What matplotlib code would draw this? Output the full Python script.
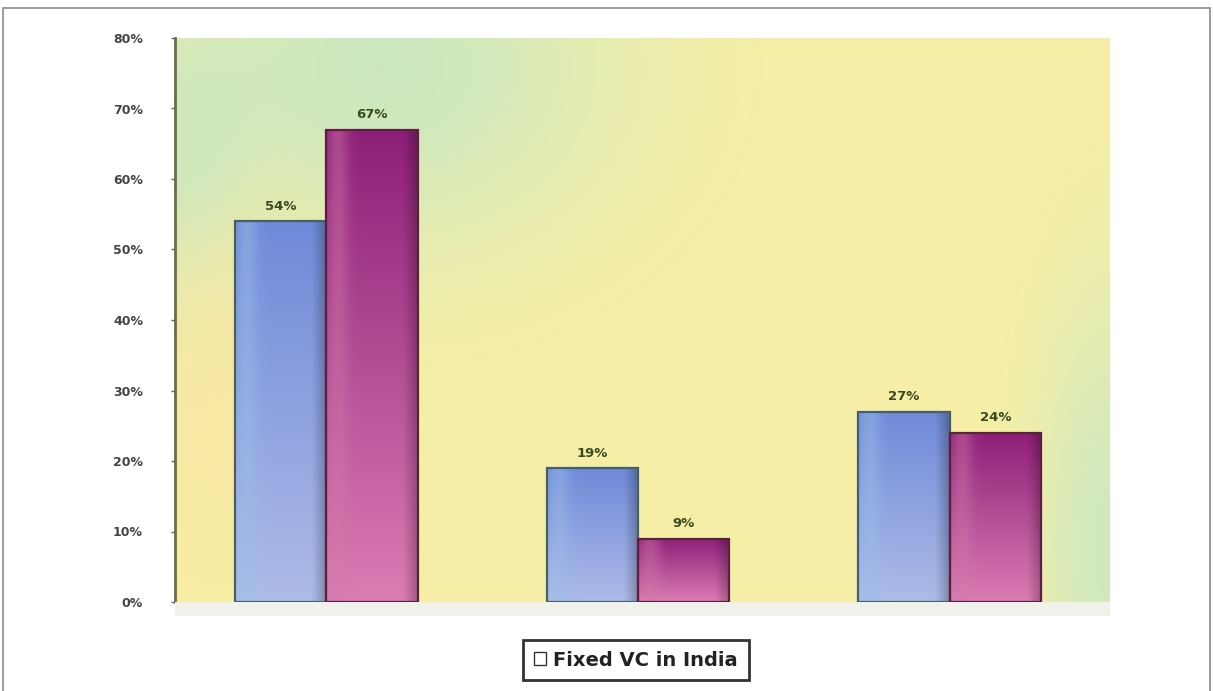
import numpy as np
import matplotlib
matplotlib.use("Agg")
import matplotlib.pyplot as plt
from matplotlib.patches import Rectangle
from matplotlib.colors import to_rgb

# Data
categories = ["A", "B", "C"]
series_names = ["Fixed VC in India", "Other"]
series_a = [54, 19, 27]
series_b = [67, 9, 24]
y_ticks = [0, 10, 20, 30, 40, 50, 60, 70, 80]
y_tick_labels = ["0%", "10%", "20%", "30%", "40%", "50%", "60%", "70%", "80%"]

W, H = 1213, 691
fig = plt.figure(figsize=(W / 100, H / 100), dpi=100)
fig.patch.set_facecolor("white")

# outer frame line
fig.patches.append(Rectangle((3 / W, -0.01), (1210 - 3) / W, 1 - 8 / H + 0.01,
                             transform=fig.transFigure, fill=False,
                             edgecolor="#8a8a8a", linewidth=1.2, zorder=0))

left, right = 175 / W, 1110 / W
bottom, top = 1 - 602 / H, 1 - 38 / H
ax = fig.add_axes([left, bottom, right - left, top - bottom])

# light band under the plot area
fig.patches.append(Rectangle((left, 1 - 616 / H), right - left, 14 / H,
                             transform=fig.transFigure, facecolor="#f1f1ec",
                             edgecolor="none", zorder=0))

n = len(categories)
x = np.arange(n)
off = 0.0145
x_lo, x_hi = -0.5 + off, n - 0.5 + off
ax.set_xlim(x_lo, x_hi)
ax.set_ylim(0, 80)

# soft yellow/green background wash
ny, nx = 200, 300
gx, gy = np.meshgrid(np.linspace(0, 1, nx), np.linspace(0, 1, ny))
yellow = np.array(to_rgb("#f7efa6"))
green = np.array(to_rgb("#cce8c0"))
orange = np.array(to_rgb("#f9e4a0"))
w_green = (np.exp(-(((gx - 0.22) / 0.25) ** 2 + ((gy - 0.95) / 0.33) ** 2))
           + 0.9 * np.exp(-(((gx - 1.0) / 0.08) ** 2 + ((gy - 0.1) / 0.45) ** 2))
           + 0.6 * np.exp(-(((gx - 0.0) / 0.08) ** 2 + ((gy - 0.75) / 0.25) ** 2)))
w_green = np.clip(w_green, 0, 1)
w_orange = 0.6 * np.exp(-(((gx - 0.05) / 0.1) ** 2 + ((gy - 0.35) / 0.3) ** 2))
img = yellow[None, None, :] * (1 - w_green[..., None]) + green[None, None, :] * w_green[..., None]
img = img * (1 - w_orange[..., None]) + orange[None, None, :] * w_orange[..., None]
ax.imshow(img, extent=(x_lo, x_hi, 0, 80), origin="lower", aspect="auto",
          zorder=0, interpolation="bilinear")

bar_w = 0.293


def gradient_bar(xc, h, top_col, bottom_col, edge_col, side_col):
    x0 = xc - bar_w / 2
    rect = Rectangle((x0, 0), bar_w, h, facecolor="none", edgecolor=edge_col,
                     linewidth=1.6, zorder=3)
    ax.add_patch(rect)
    t = np.linspace(0, 1, 64)[:, None]
    s = np.linspace(0, 1, 32)[None, :]
    c_top = np.array(to_rgb(top_col))
    c_bot = np.array(to_rgb(bottom_col))
    c_side = np.array(to_rgb(side_col))
    col = c_bot[None, None, :] * (1 - t[..., None]) + c_top[None, None, :] * t[..., None]
    # lighter strip on the left, darker near the right edge
    side_w = (np.exp(-((s - 0.12) / 0.12) ** 2) * 0.45)[..., None]
    col = col * (1 - side_w) + c_side[None, None, :] * side_w
    dark = (np.clip((s - 0.85) / 0.15, 0, 1) * 0.25)[..., None]
    col = col * (1 - dark)
    im = ax.imshow(np.broadcast_to(col, (64, 32, 3)), extent=(x0, x0 + bar_w, 0, h),
                   origin="lower", aspect="auto", zorder=2, interpolation="bilinear")
    clip = Rectangle((x0, 0), bar_w, h, transform=ax.transData)
    im.set_clip_path(clip)


for i in range(n):
    xa = x[i] - bar_w / 2
    xb = x[i] + bar_w / 2
    gradient_bar(xa, series_a[i], "#6f8ad8", "#aebbe8", "#44606a", "#9cc0e8")
    gradient_bar(xb, series_b[i], "#8e1f78", "#db7cb4", "#5a2040", "#d07aa8")
    ax.text(xa, series_a[i] + 1.2, f"{series_a[i]}%", ha="center", va="bottom",
            fontsize=9.5, fontweight="bold", color="#3a4a20", zorder=4)
    ax.text(xb, series_b[i] + 1.2, f"{series_b[i]}%", ha="center", va="bottom",
            fontsize=9.5, fontweight="bold", color="#3a4a20", zorder=4)

ax.set_yticks(y_ticks)
ax.set_yticklabels(y_tick_labels, fontsize=9, fontweight="bold", color="#444444")
ax.set_xticks([])
ax.tick_params(axis="y", length=3, width=1, color="#666650", pad=20)
for sp in ["top", "right", "bottom"]:
    ax.spines[sp].set_visible(False)
ax.spines["left"].set_color("#6b6b50")
ax.spines["left"].set_linewidth(2)

# legend showing the first series only
handle = Rectangle((0, 0), 1, 1, facecolor="white", edgecolor="#333333", linewidth=1)
leg = fig.legend([handle], [series_names[0]], loc="center",
                 bbox_to_anchor=(636 / W, 1 - 660 / H), frameon=True, fancybox=False,
                 fontsize=14, handlelength=0.6, handleheight=0.6, handletextpad=0.4,
                 borderpad=0.55, edgecolor="black")
leg.get_frame().set_linewidth(2)
for t in leg.get_texts():
    t.set_fontweight("bold")
    t.set_color("#222222")

fig.savefig("out.png", dpi=100, facecolor="white")
